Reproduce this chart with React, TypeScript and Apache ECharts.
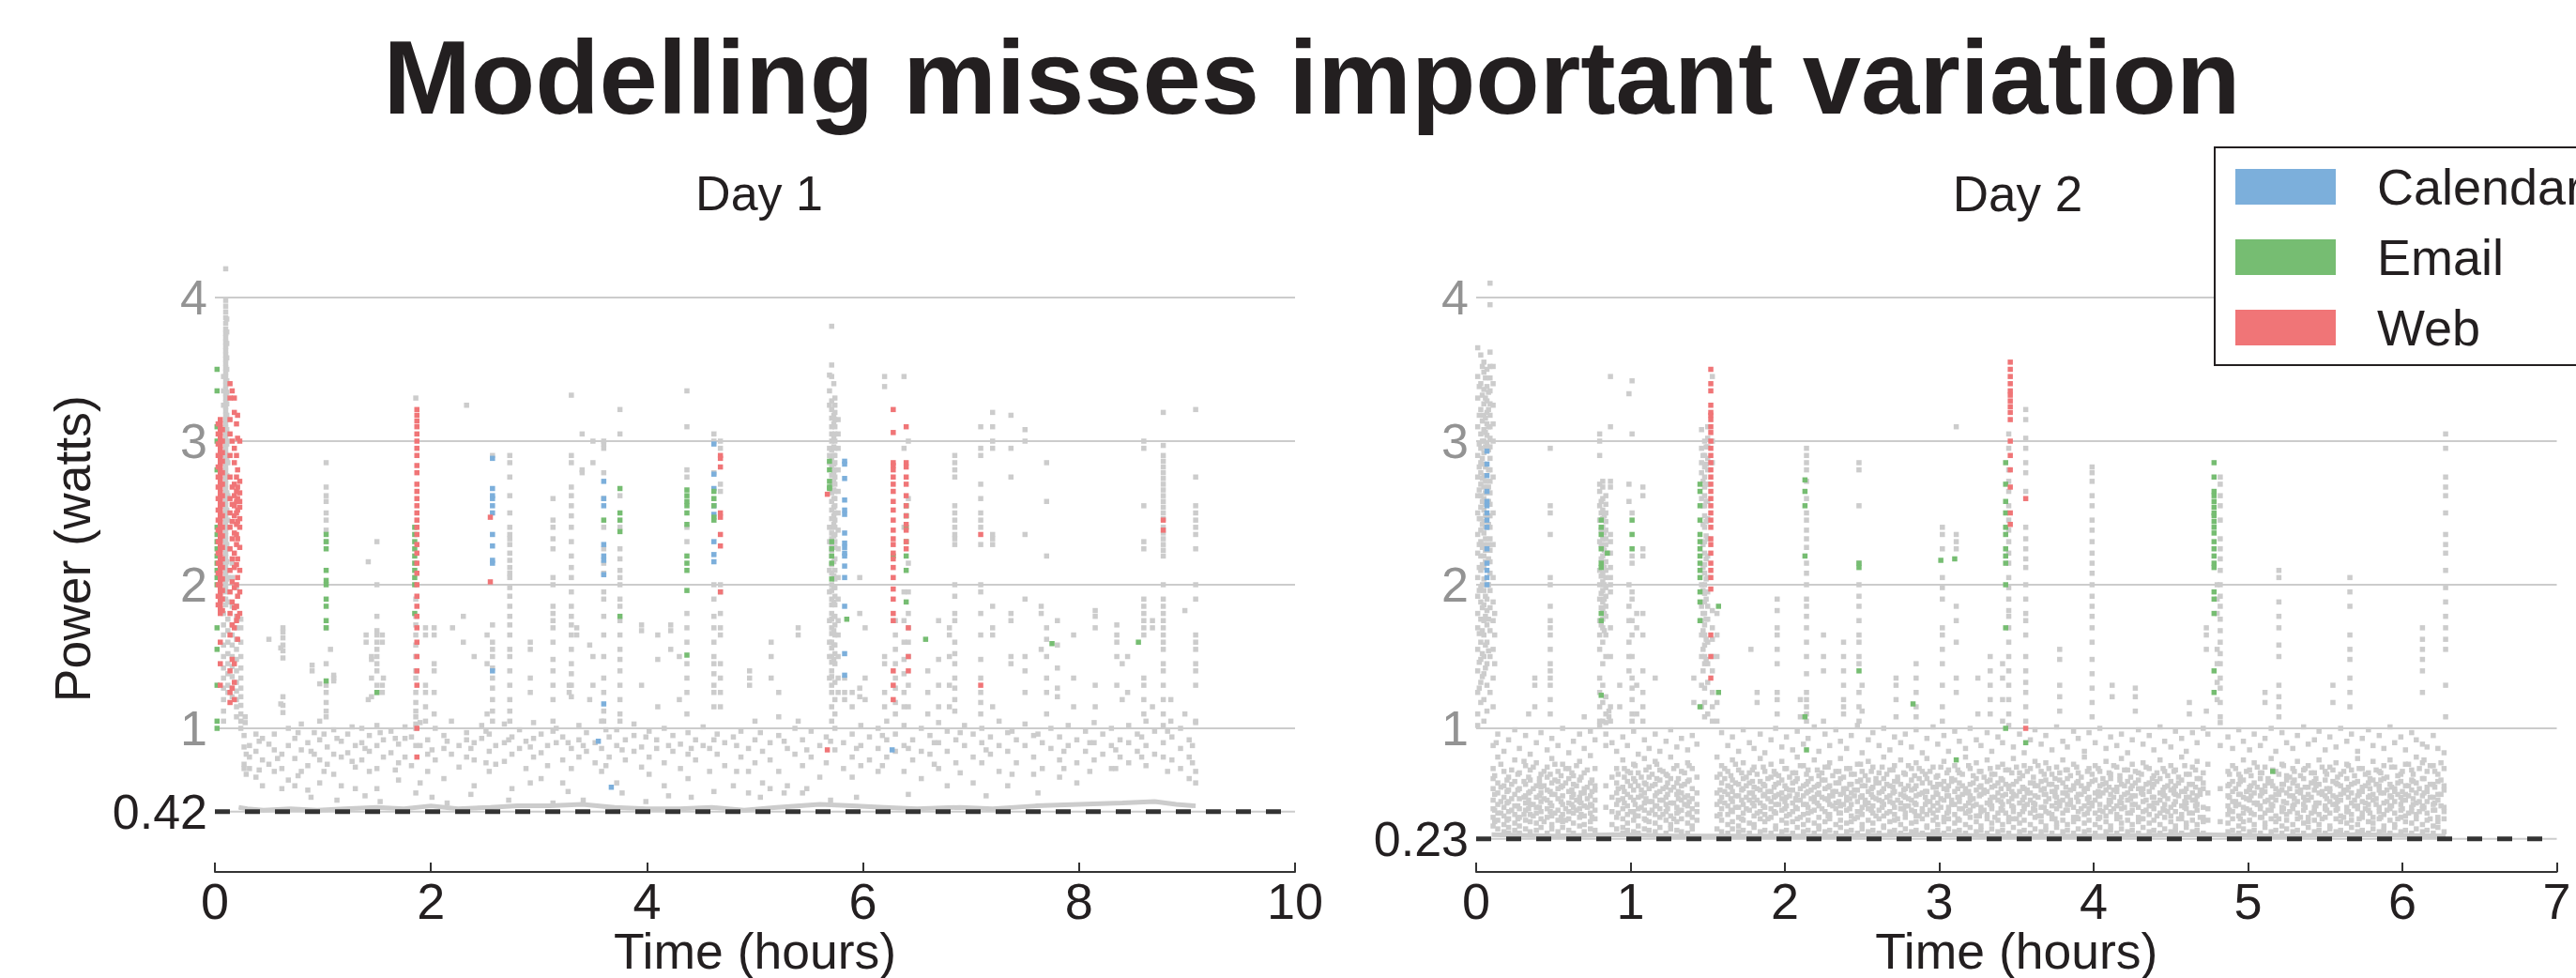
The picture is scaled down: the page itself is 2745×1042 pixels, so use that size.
import React, { useEffect, useRef } from "react";
import * as echarts from "echarts";

// Values are in hundredths (hours x100, watts x100). Each row: [x, y, y, ...]
const day1Calendar = [[257,288,267,262,260,255,250,235,227,217,215,140],[360,272,260,255,228,220,217,207,117],[367,59],[355,91],[462,298,277,267,255,249,230,221,216],[583,286,284,274,259,252,249,236,229,226,222,220,213,205,185,152,137],[627,85]];
const day1Email = [[2,105,100,130,155,170,200,205,210,215,220,225,230,235,240,280,300,310,335,350],[103,235,230,225,210,203,200,190,185,175,170,133],[150,125],[185,240,235,230,225,220,215,210,205,200,180],[375,267,250,245,237,178],[360,245],[437,266,262,258,255,250,242,220,215,210,196,151],[462,265,260,255,247,245],[569,286,280,272,268,267],[571,230,225,220,215,204],[585,176],[628,220],[640,255,248,240,230,220,210,188],[658,162],[775,159],[855,160]];
const day1Web = [[5,315,312,309,306,303,300,297,294,291,288,285,282,279,276,273,270,267,264,261,258,255,252,249,246,243,240,237,234,231,228,225,222,219,216,213,210,207,204,201,198,195,192,189,186,183,180,160,145,130],[3,312,305,298,290,282,275,268,260,252,245,238,230,222,215,208,200,192,186],[7,308,300,292,286,278,270,262,256,248,240,234,226,218,212,204,196,190,182],[14,340,330,315,305,290,275,260,250,240,225,210,195,180,165,140,125,118],[16,335,300,268,256,244,232,218,202,188,172,148,128],[18,330,320,295,285,270,262,255,248,236,222,212,198,184,170,145,132,120],[20,312,290,275,265,258,250,242,235,228,214,200,185,175],[21,318,302,280,268,260,252,244,232,218,205,192,178,162],[23,300,272,264,258,254,246,240,226,210,195,180],[187,322,318,314,310,305,300,295,290,283,278,270,265,260,255,250,245,240,235,228,222,215,208,200,192,185,178,170,160,150,140,130,100,80],[255,247,202],[468,290,288,282,250,247,235,227,195],[567,85,263],[628,322,306,285,283,280,275,270,265,258,252,245,238,232,228,222,218,212,205,197,190,180,175,140,130,120],[640,310,285,282,275,270,262,255,248,242,238,230,225],[642,150,170,140],[709,235,130],[878,245,238]];
const day1Bursts = [
[10,420,398,394,390,386,382,378,375,372,369,366,363,360,357,354,351,348,345,342,339,336,333,330,327,324,321,318,315,312,309,306,303,300,297,294,291,288,285,282,279,276,273,270,267,264,261,258,255,252,249,246,243,240,237,234,231,228,225,222,219,216,213,210,207,204,201,198,195,190,186],
[11,385,376,368,358,350,342,334,326,318,308,298,288,276,264,252,240,228,216,204],[8,345,335,325,290,270,232,215,190,180,172,165,158,150,142,135,128,120,112,105],[12,300,285,262,245,225,205,188,176,168,160,152,145,138,130,125],[16,215,205,185,172,165,158,150,143,136,128,122],[20,198,185,178,170,162,155,148,140,132,126,120,115,108],[24,176,170,160,150,142,135,128,122,116,110,105,100],[28,108,104],
[50,162],[63,170,167,163,158,154,149,122,116,111],[61,156,117],[90,144,140],[97,131],[103,285,268,262,258,250,245,238,230,170,145,130,125,118,112,108],[110,137,135,133],[107,155],[142,216,120],[150,230,200,178,168,165,160,155,150,145,140,130,125],[145,150,148,135,122],[155,165,160,130,125],[156,135],[140,165,160],
[186,330,190,178,172,165,158,150,140,135,125,118,112,108,103,100],[195,170,165,130,125,115,105],[203,170,165,145,140,125,110],[220,170],[233,325],[230,178,160],[240,150],[257,290,172,160,155,150,142,135,128,120,112,105],[252,165,145,110],
[273,290,285,275,262,250,240,235,232,228,222,217,212,208,205,198,192,185,178,172,165,155,150,140,130,120,112,105],[292,160,155,135,125],[313,260,245,240,232,225,205,200,185,180,175,170,160,148,140,130,120,105],[330,332,290,285,268,262,255,248,240,230,220,212,205,195,185,178,172,165,155,145,138,130,122],[335,170,165],[328,130,125],[340,305,280,278],[350,300,285,150,130],[347,158,120],
[360,300,298,295,278,260,240,225,215,208,195,190,178,165,150,135,125,112,105],[375,322,305,262,240,225,218,210,205,200,190,185,175,165,155,148,140,130,120,110,105],[395,172,168,130],[410,165,148,115],[422,172,168,155],[430,150,120],[437,335,310,280,275,240,230,180,170,160,145,135,125,110],[462,305,300,278,200,190,178,170,160,150,145,138,130,125,115],[468,300,295,270,265,200,195,180,170,165,145,135,125,115],[495,140,135,130],[500,105],[515,160,150,135],[540,170,165,105],[522,125,108],
[569,346,335,325,295,290,285,240,230,210,195,175,160,150,135],[571,380,353,345,328,322,316,310,305,300,294,288,282,276,270,264,258,252,246,240,236,232,228,224,220,214,208,200,196,190,186,180,176,170,166,160,156,150,146,140,136,130,125,115,105],[573,340,318,312,302,296,290,284,278,272,266,260,254,248,242,234,226,216,206,198,188,178,168,158,148],[574,330,325,320,315,310,305,300,295,290,285,280,275,270,265,260,255,250,245,240,235,230,226,218,210,204,198,192,186,178,172,165,158,152,145,132,120,110],[577,315,305,295,280,265,250,238,225,205,190,175,165,150,135,125],[583,135,125,120],[590,125,115],[602,170,135,120],[597,205,180,128,122],[620,345,338,150,145,125,115],[630,175,165,155,145,135,128,118,110],[638,345,295,240,195,175,160,148,138,125,115],[642,300,260,215,195,180,170,160,150,130,115],
[660,140,125,110],[670,175,148,130,115],[685,290,285,280,275,255,250,245,240,235,232,228,200,192,180,175,160,152,145,135,128,120,112],[680,170,165,150,130,115],[709,310,295,290,270,260,250,245,240,228,200,195,180,165,148,135,125,118,110],[720,320,310,300,295,235,232,228,185,170,165,115],[737,318,295,275,180,175,150,145],[750,308,300,235,190,150,140,125],[770,285,258,220,170,162,150,135,125,110],[765,185,180,155],[780,175,158,142,128,122],[795,165,135,115],[815,182,178,170,130,115],[835,172,165,160,150,130],[840,145,120],[860,300,295,255,230,225,190,185,180,175,170,165,135,130,120,110],[845,150,125],[868,175,170,115],[878,320,297,290,286,282,278,274,270,266,262,258,254,250,246,240,236,232,228,224,220,200,190,185,180,175,170,165,160,155,145,140,130,120,110],[885,120,105],[898,182,110],[908,322,275,255,250,245,240,235,225,200,190,165,160,155,145,140,130,105]
];
const day1Scatter = [[27,95,87,75,72],[32,88,80,72],[38,96,84,66],[44,93,78,60],[50,89,75],[55,96,85,70],[62,82,72,58],[68,100,88,64],[74,93,79,60],[80,103,85,70],[86,90,74,57],[92,97,82],[97,105,92,78,62],[104,87,75],[110,99,82,68],[117,91,80,60],[123,96,83],[130,88,73,58],[136,100,90,78],[143,95,84,70],[150,102,88,72,58],[156,92,80],[163,98,83],[170,89,76,64],[176,101,93,80],[182,94,74],[190,104,88,62],[197,92,82,70],[204,100,78],[212,95,86,65],[219,105,82],[226,88,73],[233,97,92,80],[240,90,78,60],[247,102,93],[254,96,84,70],[260,88,75],[268,103,90,77],[275,94,82,58],[282,99,86],[288,91,72],[295,104,93,80],[302,96,83,65],[308,88,74],[316,100,90],[322,94,78,62],[330,86,72],[337,102,92,80],[344,97,84],[352,90,76],[358,105,86,70],[365,94,80],[372,99,88,62],[380,92,78],[388,103,95,84],[395,87,73],[402,98,80,68],[409,92,86],[416,100,76,60],[424,95,84],[431,89,72],[438,97,82,65],[445,92,78],[452,101,88],[458,86,70],[465,96,82],[472,90,74],[480,94,60],[487,98,80],[494,86,70,55],[500,92,76],[507,84,62],[514,90,78,58],[522,95,70],[530,86,60],[537,100,82],[544,92,74,55],[552,98,80],[560,88,66],[566,94,76],[574,100,85],[582,90,72],[590,96,80,66],[598,102,88,74],[606,94,78],[614,100,86,70],[622,105,92,80],[630,96,84],[638,102,88,70],[646,92,78],[654,100,84,65],[662,95,82],[670,104,90,72],[678,98,84,60],[686,92,76],[694,102,88],[702,96,80,62],[710,100,90,76],[718,94,82],[726,105,88,70],[734,97,84,60],[742,92,76],[750,103,88],[758,95,80,68],[766,90,72],[774,100,86],[782,94,78,66],[790,102,88],[798,92,76,62],[806,98,84],[814,104,90,78],[822,96,82],[830,100,88,72],[838,92,80],[846,102,90,76],[854,96,84],[862,105,88,74],[870,98,82],[878,102,90,80],[886,94,78],[894,100,86,72],[902,92,80,65],[908,104,70,62],
[29,82,68],[41,91,71],[58,79],[77,97,67],[89,84,52],[101,96,70],[113,93,50],[127,101,77],[139,86,53],[153,97,49],[167,93,71],[186,88,55],[201,85,52],[215,91,48],[237,86,54],[251,98,76],[272,92,50],[292,87,62],[313,98,48],[327,90,56],[341,88,50],[362,99,74],[377,85,55],[399,94,49],[420,88,53],[441,86,52],[462,92,56],[483,88,70],[505,97,52],[527,91,55],[548,85,58],[570,91,50],[594,86,52],[618,95,74],[642,86,54],[666,90,75],[690,97,69],[714,85,53],[738,98,68],[762,96,55],[786,84,72],[810,90,70],[834,85,72],[858,94,80],[882,98,70],[905,88,76]];
const day1Floor = [[22,45],[30,44],[45,43],[70,44],[95,43],[120,44],[150,45],[175,44],[200,46],[225,44],[255,45],[280,46],[310,46],[340,47],[370,45],[400,44],[430,44],[460,45],[490,43],[520,45],[560,47],[590,46],[620,45],[650,44],[690,45],[720,44],[760,46],[800,47],[840,48],[870,49],[890,47],[908,46]];
const day2Calendar = [[7,293,284,276,265,258,255,250,245,240,225,215,210,205,200]];
const day2Email = [[81,245,240,235,225,215,212,180,175,123],[85,222],[101,245,235,225],[145,270,265,255,245,235,230,225,220,215,210,205,195,188,175,115],[157,185,125],[213,273,265,255,220,108],[214,85],[248,215,212,140],[283,117],[301,217],[310,218],[311,78],[343,285,270,258,250,240,235,225,220,215,200,170,100],[478,285,275,265,262,258,254,250,248,244,240,236,230,225,220,215,212,195,190,180,140,125],[516,70],[356,90]];
const day2Web = [[152,350,340,335,325,320,318,315,310,306,300,295,290,285,280,275,270,265,260,255,250,245,240,232,228,222,215,210,205,197,165,150,135],[346,355,350,345,340,335,332,328,324,320,315,300,290,280,268,250,242],[356,260,100]];
const day2Bursts = [
[1,365,345,330,310,290,275,262,250,235,222,205,192,180,170,155,140,125,110,102],[2,338,318,298,282,266,246,228,212,196,166,146,128],[3,360,340,322,305,295,285,278,270,262,254,246,238,230,220,210,198,188,176,160,148,132,118],[4,352,332,314,300,288,274,258,242,226,214,200,184,168,152,136],[5,355,348,336,326,318,308,300,292,284,276,268,260,252,244,236,228,220,212,204,196,186,175,165,150,138,120,105],[6,344,330,316,306,296,282,272,264,256,248,240,232,224,216,192,178,158,142],[7,350,338,328,320,312,304,298,190,182,172,160,145,130,112],[8,334,322,310,294,280,268,258,242,228,218,200,176,154],[9,410,395,362,352,344,335,326,318,310,302,296,288,280,272,264,256,248,240,232,224,216,208,196,184,168,150,125],[11,352,340,325,312,300,275,250,228,205,188,175,155,135,115],[12,180,165,145],[13,90],
[48,295,255,250,235,205,200,185,175,170,165,155,145,140,135,130,120,110],[38,135,130,115],[34,110],[70,108],[86,112,108],
[80,305,300,290,270,265,255,245,230,210,200,190,175,165,155,135,125,115,105,102],[81,258,250,238,228,218,206,194,184,172],[82,272,268,260,252,246,240,232,226,220,214,208,202,196,188,182,176,170,160,145,130,118,105],[83,248,236,224,212,200,190,180,168],[84,262,256,250,244,238,232,228,222,216,210,205,198,192,185,178,165,150,122,110,104],[87,345,310,272,268,235,230,222,212,205,200,195,170,150,115,105],[93,130,115],[99,333,270,258,200,185,175,160,150,140],[101,342,305,250,220,215,195,190,175,165,150,135,128,120,110,105],[104,180,170,130,110],[108,268,262,225,220,180,165,140,125,115,105],[116,135],
[141,135,118],[146,308,295,285,278,260,200,185,175,165,150,130,115],[147,290,272,255,242,228,212,196,180,168,155,140],[148,300,290,282,275,268,262,255,248,240,230,222,214,208,200,194,188,180,172,165,158,150,145,128,118,108],[149,296,284,270,258,244,234,218,204,190,176,162,148],[150,310,302,296,288,280,270,258,246,232,220,205,195,185,176,160,145,132,110],[153,345,300,285,182,170,162,150,140,125,115,105],[156,180,165,150,118,105],
[178,155],[182,125,118],[195,190,182,170,165,155,145,125,120,110],[210,120,108],[214,295,290,285,280,272,260,250,245,238,232,226,215,208,200,190,185,178,170,160,150,138,125,120,115,110,105],[225,165,150,140,105],[238,160,150,140,130,120,115,110],[248,285,280,255,215,200,192,185,175,165,160,150,145,125,115,105],[250,130,112],[272,135,130,120,108],[285,145,135,125,115,108],[302,240,235,225,205,198,190,170,165,155,145,130,115,105],[311,310,235,230,225,185,175,160,135,125],[325,135,110],[333,150,140,130,120,110],[341,145,135,120,105],
[345,305,295,280,272,265,255,245,238,230,222,215,205,198,190,182,178,170,160,150,140,130,120,110],[356,322,315,302,295,285,278,265,240,232,225,218,212,200,190,180,175,165,150,140,132,125,115,105],[378,155,148,130,122,112],[399,282,278,272,262,255,245,238,230,222,215,208,200,192,185,178,170,160,148,138,128,118,108],[412,130,122],[427,128,122,112],[462,118,110],[482,275,270,262,255,245,232,225,218,210,200,192,185,176,168,160,152,145,135,128,118,108],[473,170,165,155,112],[480,200,190,180,155,145,132,120],[511,125,118],[520,210,205,188,178,170,158,150,130,122,115,108],[555,130,118],[566,205,195,185,165,155,148,135,125,115],[613,170,162,155,148,140,125],[628,305,295,275,268,262,250,235,228,222,210,198,188,178,170,162,155,130,108]
];
const day2Cloud = [
[11,88,72,65,58,50,44,38,32],[14,96,80,62,55,47,41,36,30],[18,84,70,60,52,45,39,33,28],[21,92,66,57,49,42,37,31,27],[25,99,78,63,54,46,40,34,29],[28,86,69,58,51,44,38,32,27],[32,95,74,61,53,48,43,36,30],[35,82,71,64,56,47,40,35,28],[39,90,76,60,52,45,41,34,29],[42,97,68,59,55,49,42,37,31],[46,85,73,66,57,50,44,38,27],[49,93,79,62,54,46,39,33,30],[53,88,70,63,58,51,43,36,28],[56,100,75,60,53,47,40,35,31],[60,83,72,65,56,48,42,37,29],[63,91,67,61,54,45,41,34,27],[67,96,77,64,52,49,44,38,32],[70,86,69,58,55,46,39,33,28],[74,98,81,62,53,47,41,35,30],[77,92,72,60,57,50,43,37,29],[84,96,88,60,45],[88,90,66,52,42,33],[91,84,72,62,55,47,38,30],[95,94,78,59,51,44,37,31,27],[98,88,70,63,54,46,40,34,29],[102,98,75,65,57,50,42,36,28],[105,82,69,60,52,44,39,32,27],[109,92,79,62,55,48,43,37,30],[112,86,73,66,58,49,41,35,29],[116,96,77,61,53,46,40,34,28],[119,84,71,64,56,50,44,38,31],[123,91,68,59,52,47,42,36,27],[126,99,80,65,57,48,39,33,30],[130,87,74,62,54,45,41,35,29],[133,93,70,60,55,50,43,37,28],[137,85,76,63,53,46,40,34,27],[140,95,72,58,51,44,38,32,30],[143,89,66,55,47,42,36],[156,80,66,55,47,39,30],[159,97,74,62,52,44,36,28],[163,88,70,60,54,46,40,33,27],[166,94,78,64,56,49,42,35,30],[170,84,71,61,53,45,38,32,28],[173,99,76,65,58,47,41,36,29],[177,90,69,62,55,50,43,34,27],[180,86,73,59,52,46,39,33,31],[184,96,79,63,57,48,42,37,28],[187,83,70,60,54,45,40,35,29],[191,92,75,66,56,49,44,38,27],[194,100,68,61,53,47,41,32,30],[198,87,77,64,55,51,43,36,28],[201,94,72,58,52,46,39,34,29],[205,85,69,62,57,48,42,35,27],[208,98,80,65,54,50,44,37,31],[212,89,74,60,53,47,40,33,28],[215,93,71,63,56,45,41,36,29],[219,101,78,59,52,49,43,34,27],[222,84,67,61,55,46,38,32,30],[226,96,73,64,58,51,42,35,28],[229,88,76,60,53,47,40,37,29],[233,99,70,62,56,48,44,33,27],[236,91,79,65,54,46,41,36,31],[240,86,72,58,52,50,43,34,28],[243,95,68,61,55,47,39,35,29],[247,102,75,63,57,49,42,38,27],[250,83,70,60,53,45,40,33,30],[254,92,77,64,56,48,44,36,28],[257,97,73,59,52,46,41,34,29],[261,88,69,62,55,50,43,37,27],[264,100,80,65,58,47,39,32,31],[268,85,71,60,53,49,42,35,28],[271,94,74,63,56,45,40,36,29],[275,90,78,61,54,48,44,33,27],[278,96,68,58,52,46,41,38,30],[282,87,72,64,57,50,43,34,28],[285,99,76,60,53,47,39,35,29],[289,83,70,62,55,44,42,37,27],[292,93,79,65,56,49,40,32,31],[296,101,73,59,52,46,41,36,28],[299,89,67,61,54,48,43,33,29],[303,95,77,63,58,50,38,35,27],[306,84,71,60,53,45,42,37,30],[310,98,74,64,56,47,40,34,28],[313,91,69,62,52,49,44,36,29],[317,86,80,58,55,46,41,33,27],[320,100,72,61,53,50,43,38,31],[324,92,76,65,57,47,39,35,28],[327,88,70,60,54,45,42,32,29],[331,97,78,63,56,48,40,37,27],[334,84,68,59,52,46,44,34,30],[338,94,73,62,55,50,41,36,28],[341,90,75,64,53,47,43,33,29],[345,102,71,60,58,49,38,35,27],[348,87,79,61,54,45,42,37,31],[352,96,69,65,56,48,40,34,28],[355,83,74,58,52,46,44,36,29],[359,92,72,62,55,50,41,33,27],[362,99,77,60,53,47,43,38,30],[366,89,70,63,57,45,39,35,28],[369,95,76,64,54,49,42,32,29],[373,85,68,61,56,46,40,37,27],[376,101,73,59,52,48,44,34,31],[380,91,78,62,55,50,41,36,28],[383,87,71,65,53,47,43,33,29],[387,98,75,60,58,45,38,35,27],[390,93,69,63,54,49,42,37,30],[394,84,80,58,56,46,40,34,28],[397,97,72,61,52,48,44,36,29],[401,90,74,64,55,50,41,33,27],[404,100,70,60,53,47,43,38,31],[408,86,77,62,57,45,39,35,28],[411,94,68,65,54,49,42,32,29],[415,88,73,59,56,46,40,37,27],[418,96,79,61,52,48,44,34,30],[422,83,71,63,55,50,41,36,28],[425,92,75,60,53,47,43,33,29],[429,99,69,64,58,45,38,35,27],[432,89,76,58,54,49,42,37,31],[436,95,72,62,56,46,40,34,28],[439,85,67,61,52,48,44,36,29],[443,101,78,65,55,50,41,33,27],[446,91,70,59,53,47,43,38,30],[450,87,74,63,57,45,39,35,28],[453,98,71,60,54,49,42,32,29],[457,93,80,64,56,46,40,37,27],[460,84,68,58,52,48,44,34,31],[464,97,73,61,55,50,41,36,28],[467,90,77,65,53,47,43,33,29],[471,100,69,62,58,45,38,35,27],[474,96,75,55,44,36],[482,104,88,58,35],[487,94,70,60,53,46,40,34,28],[490,86,74,63,56,49,42,37,29],[494,99,68,61,54,47,39,32,27],[497,91,78,64,52,45,41,35,30],[501,85,71,59,57,50,43,36,28],[504,96,76,62,55,48,40,33,29],[508,88,69,65,53,46,44,38,27],[511,93,73,60,56,49,41,34,31],[515,100,79,63,52,47,43,37,28],[518,84,70,58,54,50,39,35,29],[522,97,75,61,57,45,42,32,27],[525,90,67,64,55,48,40,36,30],[529,86,72,62,53,46,44,33,28],[532,95,77,60,56,49,41,37,29],[536,101,71,65,52,47,43,34,27],[539,89,74,59,54,50,38,35,31],[543,92,69,63,57,45,42,36,28],[546,98,78,61,55,48,40,33,29],[550,85,70,64,53,46,44,38,27],[553,94,73,58,56,49,41,32,30],[557,87,76,62,52,47,43,37,28],[560,100,68,60,54,50,39,35,29],[564,91,75,65,57,45,42,34,27],[567,96,71,61,55,48,40,36,31],[571,84,79,63,53,46,44,33,28],[574,93,72,59,56,49,41,38,29],[578,99,69,62,52,47,43,35,27],[581,88,77,64,54,50,38,34,30],[585,95,70,60,57,45,42,37,28],[588,86,74,65,55,48,40,32,29],[592,101,78,61,53,46,44,36,27],[595,90,73,58,56,49,41,33,31],[599,94,68,63,52,47,43,38,28],[602,85,75,60,54,50,39,35,29],[606,97,71,64,57,45,42,34,27],[609,92,80,62,55,48,40,37,30],[613,89,76,65,53,46,44,33,28],[616,87,70,59,56,49,41,36,29],[620,95,74,61,52,47,43,32,27],[623,86,68,63,54,50,38,35,31],[627,83,72,60,57,45,42,37,28]
];
const day2Core = [
[12,67,54,43,35],[16,75,59,49,41],[20,64,56,48,36],[23,71,61,51,43],[27,68,57,46,37],[31,77,63,52,40],[34,66,55,50,44],[37,73,58,47,39],[41,65,62,53,45],[44,70,60,51,35],[48,68,56,48,42],[51,75,64,54,41],[55,67,59,49,38],[58,72,62,44,36],[62,69,57,52,47],[65,74,60,50,43],[68,66,55,48,40],[72,71,59,51,45],[75,64,56,46,38],[92,68,58,50,41],[96,72,66,56,48],[100,69,60,52,42],[103,74,63,47,39],[107,66,57,53,45],[110,71,61,51,36],[114,68,60,49,43],[117,75,65,55,46],[121,70,58,50,40],[124,67,62,54,44],[128,72,59,48,37],[131,65,56,51,42],[135,69,61,52,47],[138,74,64,49,41],[158,68,57,49,40],[161,72,65,56,48],[165,67,59,51,43],[168,75,62,53,45],[172,69,57,50,37],[175,66,60,52,44],[179,71,63,55,48],[182,68,58,50,41],[186,73,61,53,46],[189,65,56,51,37],[193,70,59,52,42],[196,67,62,54,47],[200,72,60,49,44],[203,66,57,53,40],[207,69,63,51,45],[210,74,58,50,38],[214,68,61,55,47],[217,65,57,51,42],[221,71,60,54,48],[224,69,64,52,44],[228,73,59,50,39],[231,67,56,53,46],[235,70,62,49,41],[238,66,58,55,47],[242,72,61,51,44],[245,68,57,53,37],[249,75,64,52,42],[252,67,60,50,47],[256,70,58,54,43],[259,65,62,51,39],[263,73,56,49,45],[266,68,61,52,41],[270,71,59,55,48],[273,66,63,50,37],[277,69,57,53,44],[280,74,60,51,46],[284,67,58,48,42],[287,72,65,54,39],[291,68,56,52,47],[294,70,62,49,43],[298,66,59,55,38],[301,73,61,51,45],[305,69,57,53,41],[308,65,63,50,47],[312,71,58,52,37],[315,68,60,54,44],[319,74,56,48,42],[322,67,62,51,46],[326,70,59,53,39],[329,66,57,55,43],[333,72,64,50,47],[336,68,60,52,38],[340,65,58,49,44],[343,71,61,54,41],[347,69,56,51,46],[350,73,63,53,37],[354,67,59,50,42],[357,70,57,55,47],[361,66,62,48,44],[364,74,60,52,39],[368,68,58,54,45],[371,72,61,51,41],[375,65,56,53,37],[378,69,64,49,46],[382,71,59,55,43],[385,67,57,50,47],[389,73,62,52,38],[392,66,60,54,44],[396,70,58,51,41],[399,68,63,48,46],[403,72,56,53,37],[406,65,61,55,42],[410,69,59,50,47],[413,74,57,52,44],[417,67,64,49,38],[420,71,60,54,45],[424,66,58,51,41],[427,70,62,53,47],[431,68,56,55,37],[434,73,61,50,43],[438,65,59,52,46],[441,69,63,48,39],[445,72,57,54,44],[448,67,60,51,42],[452,70,58,55,47],[455,66,62,53,37],[459,74,56,49,45],[462,68,61,52,41],[466,71,59,50,46],[469,65,57,54,38],[488,68,61,52,43],[492,72,58,49,46],[495,66,63,54,37],[499,70,56,51,44],[502,67,60,53,41],[506,73,59,48,47],[509,69,57,55,38],[513,65,62,50,43],[516,71,60,52,46],[520,68,56,54,37],[523,74,61,49,44],[527,66,58,53,42],[530,70,64,51,47],[534,67,57,55,38],[537,72,59,50,45],[541,69,62,52,41],[544,65,60,48,46],[548,73,56,54,37],[551,68,58,51,43],[555,71,63,53,47],[558,66,61,49,44],[562,70,57,55,38],[565,74,59,52,42],[569,67,62,50,46],[572,72,56,54,37],[576,68,60,48,44],[579,65,58,53,41],[583,71,61,51,47],[586,69,64,55,38],[590,66,57,49,43],[593,73,59,52,46],[597,67,62,54,37],[600,70,56,50,44],[604,75,60,53,41],[607,68,63,51,47],[611,72,58,49,42],[614,78,65,55,45],[618,74,61,52,37],[621,70,59,48,43],[625,76,64,54,46]
];
const day2Floor = [[10,26],[50,25],[90,26],[130,25],[175,25],[230,25],[290,26],[340,25],[400,25],[470,26],[520,25],[570,26],[628,25]];

const textColor = "#231f20";
const greyLabel = "#939393";
const grey = "#cccccc";
const palette = { Calendar: "#7cafdb", Email: "#76bd72", Web: "#f07577" };
const font = "Liberation Sans";

const toPoints = (rows: number[][]) =>
  rows.flatMap((r) => r.slice(1).map((y) => [r[0] / 100, y / 100]));
const toLine = (rows: number[][]) => rows.map((r) => [r[0] / 100, r[1] / 100]);

const scatter = (name: string, rows: number[][], i: number, color: string, z: number) => ({
  name, type: "scatter", xAxisIndex: i, yAxisIndex: i, symbol: "rect", symbolSize: 5.5, large: false,
  itemStyle: { color, opacity: 1 }, data: toPoints(rows), z, silent: true,
});
const band = (name: string, rows: number[][], i: number) => ({
  name, type: "line", xAxisIndex: i, yAxisIndex: i, showSymbol: false, symbol: "none",
  lineStyle: { color: grey, width: 5 }, data: toLine(rows), z: 2, silent: true,
});
const hline = (name: string, y: number, xmax: number, i: number, color: string, w: number, type: any, z: number) => ({
  name, type: "line", xAxisIndex: i, yAxisIndex: i, showSymbol: false, symbol: "none",
  lineStyle: { color, width: w, type }, data: [[0, y], [xmax, y]], z, silent: true,
});
const xAxis = (i: number, max: number, interval: number) => ({
  gridIndex: i, type: "value", min: 0, max, interval,
  name: "Time (hours)", nameLocation: "middle", nameGap: 57, nameMoveOverlap: false,
  nameTextStyle: { fontFamily: font, fontSize: 53.5, color: textColor },
  axisLine: { show: true, lineStyle: { color: "#333", width: 2 } },
  axisTick: { show: true, inside: true, length: 10, lineStyle: { color: "#333", width: 2 } },
  axisLabel: { fontFamily: font, fontSize: 54, color: textColor, margin: 4, hideOverlap: false, showMaxLabel: true, showMinLabel: true },
  splitLine: { show: false },
});
const yAxis = (i: number, low: number) => ({
  gridIndex: i, type: "value", min: 0, max: 4.5, interval: 1,
  name: i === 0 ? "Power (watts)" : "", nameLocation: "middle", nameGap: 125,
  nameTextStyle: { fontFamily: font, fontSize: 53.5, color: textColor },
  axisLine: { show: false }, axisTick: { show: false },
  axisLabel: {
    fontFamily: font, fontSize: 52, margin: 8,
    customValues: [low, 1, 2, 3, 4],
    formatter: (v: number) => String(v),
    color: (v: number) => (v < 1 ? textColor : greyLabel),
  },
  splitLine: { show: true, showMaxLine: false, showMinLine: false, lineStyle: { color: grey, width: 2 } },
});

export default function App() {
  const ref = useRef<HTMLDivElement>(null);
  useEffect(() => {
    const chart = echarts.init(ref.current!, undefined, { renderer: "svg" });
    chart.setOption({
      animation: false,
      backgroundColor: "#ffffff",
      title: [
        { text: "Modelling misses important variation", left: 1393, top: 21, textAlign: "center", textStyle: { fontFamily: font, fontWeight: "bold", fontSize: 112, color: textColor } },
        { text: "Day 1", left: 804, top: 175, textAlign: "center", textStyle: { fontFamily: font, fontWeight: "normal", fontSize: 52, color: textColor } },
        { text: "Day 2", left: 2145, top: 175, textAlign: "center", textStyle: { fontFamily: font, fontWeight: "normal", fontSize: 53, color: textColor } },
      ],
      legend: {
        show: true, orient: "vertical", left: 2360, top: 157, padding: [15, 30, 13, 22],
        data: ["Calendar", "Email", "Web"], icon: "rect", itemWidth: 107, itemHeight: 38, itemGap: 21,
        borderColor: "#231f20", borderWidth: 2, backgroundColor: "#fff",
        textStyle: { fontFamily: font, fontSize: 54, color: textColor, padding: [0, 0, 0, 39] },
        selectedMode: false, z: 20,
      },
      grid: [
        { left: 229, top: 240.5, width: 1151, height: 688.5, outerBoundsMode: "none" },
        { left: 1573, top: 240.5, width: 1151.5, height: 688.5, outerBoundsMode: "none" },
      ],
      xAxis: [xAxis(0, 10, 2), xAxis(1, 7, 1)],
      yAxis: [yAxis(0, 0.42), yAxis(1, 0.23)],
      series: [
        hline("Floor 1", 0.42, 10, 0, grey, 2, "solid", 1),
        hline("Floor 2", 0.23, 7, 1, grey, 2, "solid", 1),
        band("Idle floor 1", day1Floor, 0),
        band("Idle floor 2", day2Floor, 1),
        scatter("Other 1", day1Bursts, 0, grey, 2),
        scatter("Other 1 low", day1Scatter, 0, grey, 2),
        scatter("Other 2", day2Bursts, 1, grey, 2),
        scatter("Other 2 low", day2Cloud, 1, grey, 2),
        scatter("Other 2 core", day2Core, 1, grey, 2),
        scatter("Calendar", day1Calendar, 0, palette.Calendar, 4),
        scatter("Email", day1Email, 0, palette.Email, 4),
        scatter("Web", day1Web, 0, palette.Web, 4),
        scatter("Calendar", day2Calendar, 1, palette.Calendar, 4),
        scatter("Email", day2Email, 1, palette.Email, 4),
        scatter("Web", day2Web, 1, palette.Web, 4),
        hline("Idle 1", 0.42, 10, 0, "#333333", 5, [16, 16], 5),
        hline("Idle 2", 0.23, 7, 1, "#333333", 5, [16, 16], 5),
      ],
    });
    return () => chart.dispose();
  }, []);
  return <div ref={ref} style={{ position: "absolute", left: 0, top: 0, width: 2745, height: 1042 }} />;
}
